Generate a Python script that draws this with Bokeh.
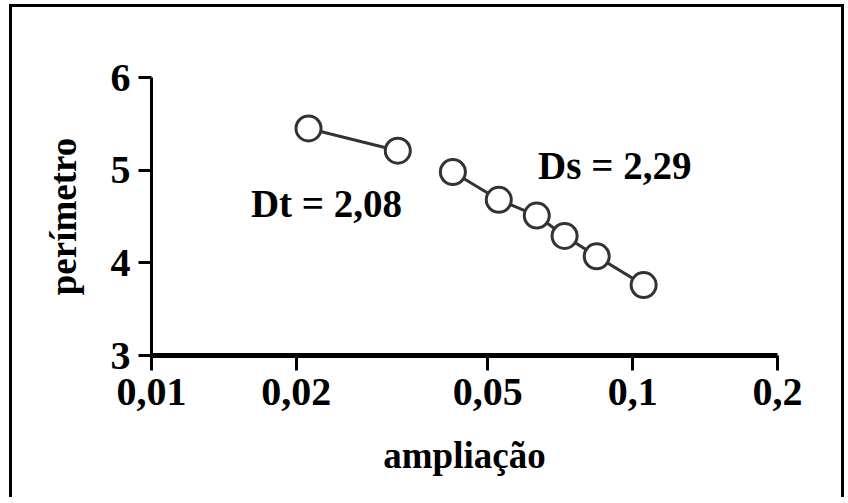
from bokeh.plotting import figure
from bokeh.models import ColumnDataSource, FixedTicker, Label, Range1d
from bokeh.embed import file_html
from bokeh.resources import INLINE

# ---- data ----
dt_ampliacao = [0.0212, 0.0325]
dt_perimetro = [5.45, 5.21]
ds_ampliacao = [0.0423, 0.0527, 0.0632, 0.0722, 0.0842, 0.1054]
ds_perimetro = [4.98, 4.68, 4.51, 4.29, 4.07, 3.76]
x_tick_values = [0.01, 0.02, 0.05, 0.1, 0.2]
x_tick_labels = ["0,01", "0,02", "0,05", "0,1", "0,2"]
y_tick_values = [3, 4, 5, 6]
y_tick_labels = ["3", "4", "5", "6"]
dt_text = "Dt = 2,08"
ds_text = "Ds = 2,29"

FONT = "Liberation Serif"
W, H = 829, 490

p = figure(width=W, height=H, x_axis_type="log",
           x_range=Range1d(0.01, 0.2), y_range=Range1d(3, 6),
           output_backend="svg", toolbar_location=None,
           min_border_left=139, min_border_right=W - 765,
           min_border_top=70, min_border_bottom=H - 348)
p.styles = {"box-shadow": "-3px 0 0 0 black, 0 -3px 0 0 black, 3px 0 0 0 black, -3px -3px 0 0 black, 3px -3px 0 0 black",
            "margin-left": "12px", "margin-top": "7px"}
p.background_fill_color = "white"
p.border_fill_color = "white"
p.outline_line_color = None
p.grid.visible = False

# axes
p.xaxis.ticker = FixedTicker(ticks=x_tick_values)
p.xaxis.major_label_overrides = {v: l for v, l in zip(x_tick_values, x_tick_labels)}
p.yaxis.ticker = FixedTicker(ticks=y_tick_values)
p.yaxis.major_label_overrides = {v: l for v, l in zip(y_tick_values, y_tick_labels)}
for ax in (p.xaxis, p.yaxis):
    ax.minor_tick_line_color = None
    ax.major_tick_in = 0
    ax.axis_line_color = "black"
    ax.major_tick_line_color = "black"
    ax.major_label_text_font = FONT
    ax.major_label_text_font_style = "bold"
    ax.major_label_text_font_size = "40px"
    ax.major_label_text_color = "black"
    ax.axis_label_text_font = FONT
    ax.axis_label_text_font_style = "bold"
    ax.axis_label_text_font_size = "37px"
    ax.axis_label_text_color = "black"
p.xaxis.axis_line_width = 5
p.xaxis.major_tick_line_width = 3
p.xaxis.major_tick_out = 15
p.xaxis.major_label_standoff = 8
p.xaxis.axis_label = "ampliação"
p.xaxis.axis_label_standoff = 27
p.yaxis.axis_line_width = 3
p.yaxis.major_tick_line_width = 3
p.yaxis.major_tick_out = 13
p.yaxis.major_label_standoff = 8
p.yaxis.axis_label = "perímetro"
p.yaxis.axis_label_standoff = 24

# series
src_dt = ColumnDataSource(dict(x=dt_ampliacao, y=dt_perimetro))
src_ds = ColumnDataSource(dict(x=ds_ampliacao, y=ds_perimetro))
for src in (src_dt, src_ds):
    p.line("x", "y", source=src, line_color="#333333", line_width=3)
    p.scatter("x", "y", source=src, size=25, marker="circle",
              fill_color="white", line_color="#333333", line_width=3)

# annotations
for txt, x, y in ((dt_text, 0.0231, 4.64), (ds_text, 0.0918, 5.05)):
    p.add_layout(Label(x=x, y=y, text=txt, text_align="center",
                       text_baseline="alphabetic", text_font=FONT,
                       text_font_style="bold", text_font_size="39px",
                       text_color="black"))

open("out.html", "w").write(file_html(p, INLINE))
